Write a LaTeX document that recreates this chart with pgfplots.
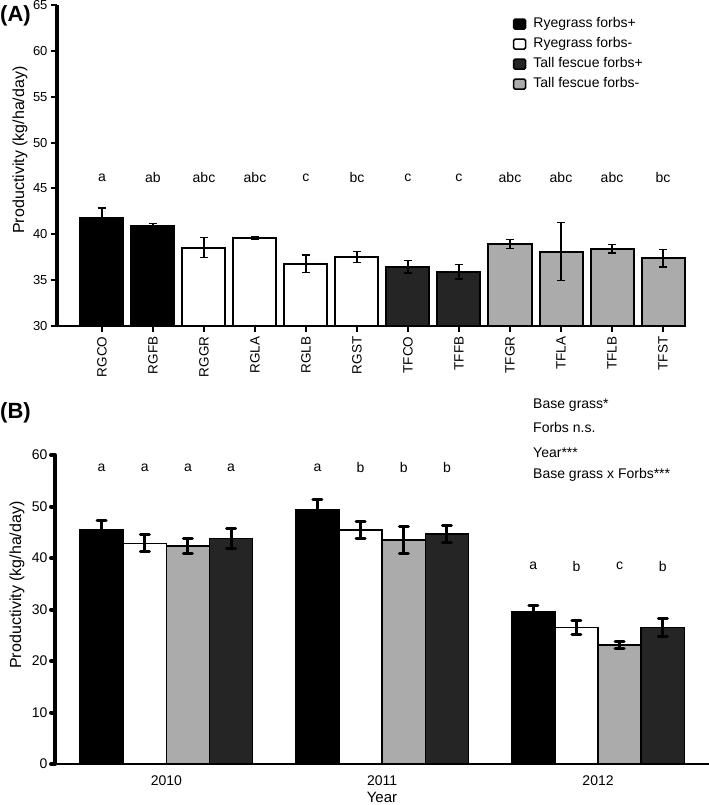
\documentclass[border=0pt]{standalone}
\usepackage{fontspec}
\setmainfont{Liberation Sans}
\usepackage{pgfplots}
\pgfplotsset{compat=1.18}
\definecolor{darkbar}{HTML}{252525}
\definecolor{lightbar}{HTML}{ABABAB}
\pgfplotsset{
  errA/.style={error bars/.cd, y dir=both, y explicit,
    error bar style={line width=1.5bp, black},
    error mark options={rotate=90, mark size=4bp, line width=1.5bp, black}},
  errB/.style={error bars/.cd, y dir=both, y explicit,
    error bar style={line width=3bp, black},
    error mark options={rotate=90, mark size=4.5bp, line width=3bp, black, line cap=round}},
}
\newcommand{\fs}[1]{\fontsize{#1}{#1}\selectfont}
\begin{document}
\begin{tikzpicture}
\useasboundingbox (0,0) rectangle (709bp,805bp);
\fill[white] (0,0) rectangle (709bp,805bp);
% ---------------- Panel A ----------------
\begin{axis}[
  at={(57bp,479bp)}, anchor=south west,
  scale only axis, width=606bp, height=321bp,
  xmin=-0.882, xmax=11, ymin=30, ymax=65,
  axis lines*=left, clip=false,
  x axis line style={line width=2bp},
  y axis line style={line width=3bp},
  xtick={0,...,11},
  xticklabels={RGCO,RGFB,RGGR,RGLA,RGLB,RGST,TFCO,TFFB,TFGR,TFLA,TFLB,TFST},
  xticklabel style={rotate=90, anchor=east, font=\fs{13.5bp}, xshift=-1bp},
  ytick={30,35,...,65},
  yticklabel style={font=\fs{13bp}},
  /pgf/number format/assume math mode=true,
  tick align=outside, major tick length=6bp,
  tick style={line width=2bp, black},
  ylabel={Productivity (kg/ha/day)},
  every axis y label/.style={at={(axis description cs:-0.061,0.548)}, rotate=90, anchor=center, font=\fs{16bp}},
  legend image code/.code={\draw[#1, line width=1.5bp, rounded corners=1.5bp] (0bp,-5bp) rectangle (12bp,5bp);},
  legend style={at={(0.752,0.962)}, anchor=north west, draw=none, fill=none,
    font=\fs{14bp}, inner sep=0pt, row sep=6.5bp,
    nodes={inner sep=0pt, text height=10.5bp, text depth=3bp},
    /tikz/every odd column/.append style={column sep=7bp}},
  legend cell align=left,
]
\addplot[ybar, bar width=43bp, bar shift=0pt, fill=black, draw=black, line width=2bp, errA]
  coordinates {(0,41.8) +- (0,1.05) (1,40.85) +- (0,0.3)};
\addlegendentry{Ryegrass forbs+}
\addplot[ybar, bar width=43bp, bar shift=0pt, fill=white, draw=black, line width=2bp, errA]
  coordinates {(2,38.55) +- (0,1.1) (3,39.62) +- (0,0.15) (4,36.77) +- (0,0.95) (5,37.5) +- (0,0.6)};
\addlegendentry{Ryegrass forbs-}
\addplot[ybar, bar width=43bp, bar shift=0pt, fill=darkbar, draw=black, line width=2bp, errA]
  coordinates {(6,36.45) +- (0,0.68) (7,35.9) +- (0,0.8)};
\addlegendentry{Tall fescue forbs+}
\addplot[ybar, bar width=43bp, bar shift=0pt, fill=lightbar, draw=black, line width=2bp, errA]
  coordinates {(8,38.95) +- (0,0.5) (9,38.12) +- (0,3.17) (10,38.42) +- (0,0.45) (11,37.4) +- (0,0.95)};
\addlegendentry{Tall fescue forbs-}
\foreach \i/\t in {0/a,1/ab,2/abc,3/abc,4/c,5/bc,6/c,7/c,8/abc,9/abc,10/abc,11/bc}{
  \edef\tmp{\noexpand\node[font=\noexpand\fs{14bp}] at (axis cs:\i,46.2) {\t};}\tmp
}
\end{axis}
\node[font=\bfseries\fs{22bp}, anchor=west, inner sep=0pt] at (0bp,789bp) {(A)};
% ---------------- Panel B ----------------
\begin{axis}[
  at={(55bp,41bp)}, anchor=south west,
  scale only axis, width=654bp, height=309bp,
  xmin=-0.516, xmax=2.514, ymin=0, ymax=60,
  axis lines*=left, clip=false,
  x axis line style={line width=1.5bp},
  y axis line style={line width=4bp},
  xtick={0,1,2}, xticklabels={2010,2011,2012},
  xtick style={draw=none},
  extra x ticks={0.5,1.5}, extra x tick labels={},
  extra x tick style={tick style={draw=black, line width=2bp}, major tick length=4bp},
  xticklabel style={font=\fs{14bp}, yshift=-4bp},
  ytick={0,10,...,60},
  yticklabel style={font=\fs{14bp}},
  /pgf/number format/assume math mode=true,
  tick align=outside, major tick length=4bp,
  ytick style={line width=4bp, black, line cap=round},
  ylabel={Productivity (kg/ha/day)},
  every axis y label/.style={at={(axis description cs:-0.058,0.579)}, rotate=90, anchor=center, font=\fs{16bp}},
  xlabel={Year},
  every axis x label/.style={at={(axis description cs:0.5,-0.107)}, anchor=center, font=\fs{15bp}},
]
\addplot[ybar, bar width=0.2, bar shift=0pt, fill=black, draw=black, line width=1.5bp, errB]
  coordinates {(-0.3,45.4) +- (0,1.8) (0.7,49.45) +- (0,2.0) (1.7,29.6) +- (0,1.1)};
\addplot[ybar, bar width=0.2, bar shift=0pt, fill=white, draw=black, line width=1.5bp, errB]
  coordinates {(-0.1,42.85) +- (0,1.65) (0.9,45.4) +- (0,1.6) (1.9,26.5) +- (0,1.3)};
\addplot[ybar, bar width=0.2, bar shift=0pt, fill=lightbar, draw=black, line width=1.5bp, errB]
  coordinates {(0.1,42.3) +- (0,1.4) (1.1,43.5) +- (0,2.7) (2.1,23.15) +- (0,0.7)};
\addplot[ybar, bar width=0.2, bar shift=0pt, fill=darkbar, draw=black, line width=1.5bp, errB]
  coordinates {(0.3,43.8) +- (0,2.0) (1.3,44.66) +- (0,1.65) (2.3,26.5) +- (0,1.7)};
\foreach \x/\y/\t in {-0.3/57.5/a,-0.1/57.5/a,0.1/57.5/a,0.3/57.5/a,
  0.7/57.5/a,0.9/57.5/b,1.1/57.5/b,1.3/57.5/b,
  1.7/38.4/a,1.9/38.4/b,2.1/38.4/c,2.3/38.4/b}{
  \edef\tmp{\noexpand\node[font=\noexpand\fs{14bp}] at (axis cs:\x,\y) {\t};}\tmp
}
\end{axis}
\node[font=\bfseries\fs{22bp}, anchor=west, inner sep=0pt] at (0bp,392bp) {(B)};
\begin{scope}[every node/.style={anchor=west, font=\fs{14bp}, inner sep=0pt}]
\node at (533bp,400bp) {Base grass*};
\node at (533bp,377bp) {Forbs n.s.};
\node at (533bp,352bp) {Year***};
\node at (533bp,330bp) {Base grass x Forbs***};
\end{scope}
\end{tikzpicture}
\end{document}
